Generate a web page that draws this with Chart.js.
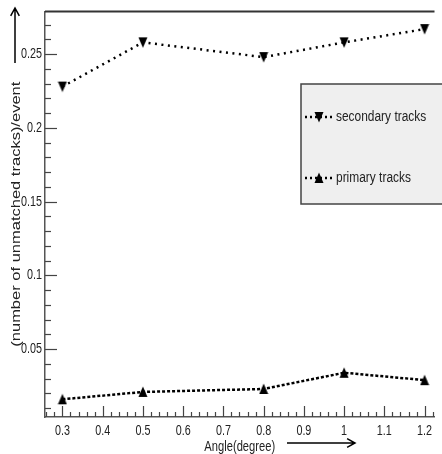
<!DOCTYPE html>
<html>
<head>
<meta charset="utf-8">
<script src="https://cdn.jsdelivr.net/npm/chart.js@4.4.1/dist/chart.umd.min.js"></script>
<style>
  html, body { margin: 0; padding: 0; background: #fff; }
  canvas { display: block; }
</style>
</head>
<body>
<canvas id="myChart" width="442" height="454"></canvas>
<script>
const angles = [0.3, 0.5, 0.8, 1.0, 1.2];
const secondaryTracks = [0.228, 0.258, 0.248, 0.258, 0.267];
const primaryTracks = [0.016, 0.021, 0.023, 0.034, 0.029];
const seriesNames = ["secondary tracks", "primary tracks"];
const xTickLabels = ["0.3", "0.4", "0.5", "0.6", "0.7", "0.8", "0.9", "1", "1.1", "1.2"];
const yTickLabels = ["0.05", "0.1", "0.15", "0.2", "0.25"];
const xTitle = "Angle(degree)";
const yTitle = "(number of unmatched tracks)/event";

const fontFamily = "'Liberation Sans', Arial, sans-serif";

// the original picture is squeezed sideways, so all text is drawn narrower
const canvas = document.getElementById("myChart");
const context = canvas.getContext("2d");
const plainFillText = context.fillText;
context.fillText = function (text, x, y, maxWidth) {
    const m = this.getTransform();
    const p = m.transformPoint(new DOMPoint(x, y));
    const squeezed = new DOMMatrix().translate(p.x, p.y).scale(0.77, 1).translate(-p.x, -p.y).multiply(m);
    this.save();
    this.setTransform(squeezed);
    if (maxWidth === undefined) plainFillText.call(this, text, x, y);
    else plainFillText.call(this, text, x, y, maxWidth / 0.77);
    this.restore();
};

function toPoints(values) {
    return angles.map((a, i) => ({ x: a, y: values[i] }));
}

// only the values listed in the tick arrays get a label
function labelFrom(list) {
    return function (value) {
        const hit = list.find(t => Math.abs(parseFloat(t) - value) < 1e-6);
        return hit === undefined ? "" : hit;
    };
}

// small triangle markers, a bit taller than wide like the original
function triangleMarker(pointDown) {
    const c = document.createElement("canvas");
    c.width = 10;
    c.height = 12;
    const g = c.getContext("2d");
    g.fillStyle = "#000";
    g.beginPath();
    if (pointDown) {
        g.moveTo(0.5, 1);
        g.lineTo(9.5, 1);
        g.lineTo(5, 11.5);
    } else {
        g.moveTo(5, 0.5);
        g.lineTo(9.5, 11);
        g.lineTo(0.5, 11);
    }
    g.closePath();
    g.fill();
    return c;
}

function arrow(ctx, x1, y1, x2, y2) {
    const ang = Math.atan2(y2 - y1, x2 - x1);
    ctx.beginPath();
    ctx.moveTo(x1, y1);
    ctx.lineTo(x2, y2);
    ctx.moveTo(x2 - 9 * Math.cos(ang - 0.5), y2 - 9 * Math.sin(ang - 0.5));
    ctx.lineTo(x2, y2);
    ctx.lineTo(x2 - 9 * Math.cos(ang + 0.5), y2 - 9 * Math.sin(ang + 0.5));
    ctx.stroke();
}

// ticks drawn inward, top frame line, and the two arrows
const frame = {
    id: "frame",
    afterDraw(chart) {
        const ctx = chart.ctx;
        const area = chart.chartArea;
        ctx.save();
        ctx.strokeStyle = "#333";
        ctx.lineWidth = 2;
        ctx.beginPath();
        ctx.moveTo(area.left, area.top);
        ctx.lineTo(area.right, area.top);
        ctx.stroke();

        ctx.strokeStyle = "#444";
        ctx.lineWidth = 1.2;
        const xs = chart.scales.x;
        xs.ticks.forEach((t, i) => {
            const px = Math.round(xs.getPixelForTick(i)) + 0.5;
            const len = t.label ? 11 : 5;
            ctx.beginPath();
            ctx.moveTo(px, area.bottom);
            ctx.lineTo(px, area.bottom - len);
            ctx.stroke();
        });
        const ys = chart.scales.y;
        ys.ticks.forEach((t, i) => {
            const py = Math.round(ys.getPixelForTick(i)) + 0.5;
            const len = t.label ? 12 : 6;
            ctx.beginPath();
            ctx.moveTo(area.left, py);
            ctx.lineTo(area.left + len, py);
            ctx.stroke();
        });

        ctx.strokeStyle = "#000";
        ctx.lineWidth = 1.5;
        arrow(ctx, 15, 63, 15, 8);
        arrow(ctx, 287, 443, 355, 443);
        ctx.restore();
    }
};

// boxed legend inside the plot, like the original
const boxLegend = {
    id: "boxLegend",
    afterDraw(chart) {
        const ctx = chart.ctx;
        ctx.save();
        ctx.fillStyle = "#efefef";
        ctx.fillRect(301, 84, 150, 120);
        ctx.strokeStyle = "#444";
        ctx.lineWidth = 1.5;
        ctx.strokeRect(301, 84, 150, 120);

        chart.data.datasets.forEach((ds, i) => {
            const y = 117 + i * 61;
            ctx.strokeStyle = "#000";
            ctx.lineWidth = 2.5;
            ctx.setLineDash([2, 3]);
            ctx.beginPath();
            ctx.moveTo(305, y);
            ctx.lineTo(332, y);
            ctx.stroke();
            ctx.setLineDash([]);
            Chart.helpers.drawPoint(ctx, {
                pointStyle: ds.pointStyle,
                rotation: 0,
                radius: ds.pointRadius,
                borderWidth: 0
            }, 319, y);
            ctx.font = "15.5px " + fontFamily;
            ctx.fillStyle = "#222";
            ctx.textBaseline = "middle";
            ctx.textAlign = "left";
            ctx.fillText(ds.label, 336, y);
        });
        ctx.restore();
    }
};

new Chart(context, {
    type: "line",
    data: {
        datasets: [{
            label: seriesNames[0],
            data: toPoints(secondaryTracks),
            borderColor: "#000",
            backgroundColor: "#000",
            borderWidth: 2.5,
            borderDash: [2, 4.5],
            pointStyle: triangleMarker(true),
            pointRadius: 5
        }, {
            label: seriesNames[1],
            data: toPoints(primaryTracks),
            borderColor: "#000",
            backgroundColor: "#000",
            borderWidth: 2.5,
            borderDash: [3, 2],
            pointStyle: triangleMarker(false),
            pointRadius: 5
        }]
    },
    options: {
        responsive: false,
        animation: false,
        layout: { padding: { top: 7, right: 4, left: 0, bottom: 0 } },
        plugins: {
            legend: { display: false },
            tooltip: { enabled: false }
        },
        scales: {
            x: {
                type: "linear",
                min: 0.2567,
                max: 1.2246,
                afterFit: s => { s.height = 37; },
                grid: { display: false, drawTicks: false },
                border: { display: true, color: "#555", width: 1.5 },
                ticks: {
                    stepSize: 0.02,
                    includeBounds: false,
                    autoSkip: false,
                    maxRotation: 0,
                    padding: 6,
                    color: "#222",
                    font: { family: fontFamily, size: 14 },
                    callback: labelFrom(xTickLabels)
                },
                title: {
                    display: true,
                    text: xTitle,
                    color: "#222",
                    padding: 0,
                    font: { family: fontFamily, size: 14.5, lineHeight: 1 }
                }
            },
            y: {
                min: 0.004,
                max: 0.279,
                afterFit: s => { s.width = 45; },
                grid: { display: false, drawTicks: false },
                border: { display: true, color: "#555", width: 1.5 },
                ticks: {
                    stepSize: 0.01,
                    includeBounds: false,
                    autoSkip: false,
                    padding: 3,
                    color: "#222",
                    font: { family: fontFamily, size: 14 },
                    callback: labelFrom(yTickLabels)
                },
                title: {
                    display: true,
                    text: yTitle,
                    color: "#222",
                    padding: { top: 7, bottom: 0 },
                    font: { family: fontFamily, size: 16.5 }
                }
            }
        }
    },
    plugins: [frame, boxLegend]
});
</script>
</body>
</html>
